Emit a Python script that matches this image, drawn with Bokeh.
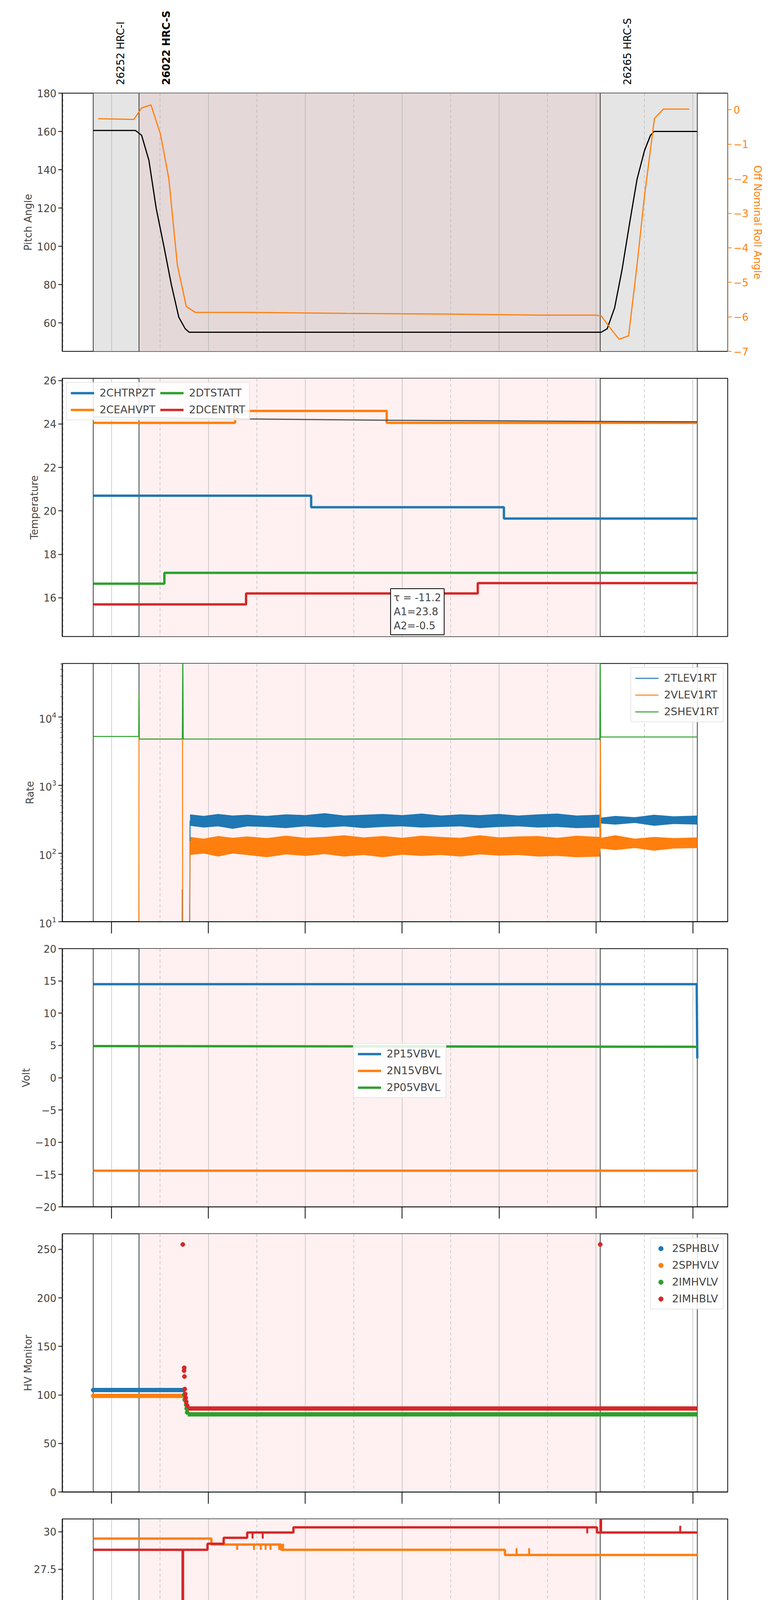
from math import pi
from bokeh.plotting import figure
from bokeh.layouts import column
from bokeh.models import (Range1d, LinearAxis, FixedTicker, Span, BoxAnnotation,
                          Label, Legend, LegendItem)
from bokeh.core.properties import value
from bokeh.embed import file_html
from bokeh.resources import INLINE

C = ["#1f77b4", "#ff7f0e", "#2ca02c", "#d62728"]
FONT = "DejaVu Sans"

# ---- time marks (decimal hours, 2021-12-28) ----
x_start, x_end = 5.491, 12.36
hour_ticks = [6, 7, 8, 9, 10, 11, 12]
hour_labels = ["06h", "07h", "08h", "09h", "10h", "11h", "12h"]
half_ticks = [5.5, 6.5, 7.5, 8.5, 9.5, 10.5, 11.5]
event_lines = [5.81, 6.283, 11.044, 12.046]
hrc_span = (5.81, 12.046)
obs_span = (6.283, 11.044)
obs_labels = ["26252 HRC-I", "26022 HRC-S", "26265 HRC-S"]
obs_label_x = [6.154, 6.627, 11.388]
obs_label_style = ["normal", "bold", "normal"]

# ---- panel 1: pitch / roll ----
pitch_t = [5.81, 6.247, 6.31, 6.385, 6.46, 6.54, 6.617, 6.694, 6.76, 6.80,
           11.054, 11.116, 11.193, 11.27, 11.347, 11.424, 11.501, 11.563, 11.60, 12.046]
pitch_v = [160.5, 160.5, 158, 145, 120, 100, 80, 63, 57, 55.2,
           55.2, 57, 68, 88, 112, 135, 150, 158, 160, 160]
roll_t = [5.86, 6.05, 6.23, 6.31, 6.406, 6.504, 6.591, 6.679, 6.771, 6.864, 7.388,
          8.416, 9.445, 10.473, 10.987, 11.054, 11.141, 11.239, 11.337, 11.424,
          11.501, 11.604, 11.697, 11.964]
roll_v = [-0.26, -0.27, -0.28, 0.05, 0.14, -0.7, -2.0, -4.5, -5.7, -5.87, -5.87,
          -5.9, -5.92, -5.95, -5.95, -5.97, -6.3, -6.65, -6.55, -4.5,
          -2.5, -0.25, 0.02, 0.02]

# ---- panel 2: temperature ----
t_steps = {
    "2CHTRPZT": ([5.81, 8.06, 10.05, 12.046], [20.7, 20.17, 19.65, 19.65]),
    "2CEAHVPT": ([5.81, 7.275, 8.84, 12.046], [24.05, 24.6, 24.05, 24.05]),
    "2DTSTATT": ([5.81, 6.545, 12.046], [16.65, 17.15, 17.15]),
    "2DCENTRT": ([5.81, 7.388, 9.78, 12.046], [15.7, 16.2, 16.68, 16.68]),
}
fit_t = [5.81, 7.388, 8.93, 10.98, 12.046]
fit_v = [24.32, 24.23, 24.17, 24.12, 24.1]
fit_text = "τ = -11.2\nA1=23.8\nA2=-0.5"

# ---- panel 3: rates ----
shev_t = [5.81, 6.28, 6.283, 6.286, 6.73, 6.735, 6.74, 11.04, 11.044, 11.048, 12.046]
shev_v = [5200, 5200, 22000, 4750, 4750, 100000, 4750, 4750, 100000, 5100, 5100]
vlev_t = [6.281, 6.283, 6.286, 6.732, 6.735, 6.80, 6.81, 11.04, 11.046, 11.05, 12.046]
vlev_v = [1, 22000, 4750, 4750, 1, 1, 150, 150, 4500, 140, 145]
tlev_t = [6.728, 6.73, 6.732, 6.805, 6.81, 11.04, 11.044, 11.05, 12.046]
tlev_v = [1, 30, 1, 1, 300, 300, 380, 300, 310]
band_t = [6.81, 6.95, 7.1, 7.25, 7.4, 7.6, 7.8, 8.0, 8.2, 8.4, 8.6, 8.8, 9.0, 9.2,
          9.4, 9.6, 9.8, 10.0, 10.2, 10.4, 10.6, 10.8, 11.04,
          11.05, 11.2, 11.4, 11.6, 11.8, 12.046]
tlev_hi = [375, 355, 380, 360, 370, 355, 375, 365, 390, 360, 370, 380, 365, 385,
           360, 375, 365, 380, 360, 375, 385, 360, 370,
           335, 355, 340, 370, 350, 360]
tlev_lo = [255, 240, 250, 230, 250, 245, 235, 250, 240, 250, 235, 245, 250, 240,
           245, 250, 235, 245, 250, 240, 245, 235, 240,
           275, 265, 280, 255, 270, 265]
vlev_hi = [175, 165, 180, 170, 178, 168, 182, 170, 175, 185, 172, 180, 170, 182,
           175, 170, 185, 172, 178, 180, 170, 182, 175,
           170, 185, 165, 175, 168, 172]
vlev_lo = [95, 100, 90, 100, 95, 88, 97, 92, 98, 90, 95, 88, 96, 92, 95, 90, 97,
           93, 95, 90, 92, 88, 90,
           118, 112, 120, 110, 118, 120]

# ---- panel 4: voltages ----
volt = {
    "2P15VBVL": ([5.81, 12.04, 12.046], [14.5, 14.5, 3.0]),
    "2N15VBVL": ([5.81, 12.046], [-14.4, -14.4]),
    "2P05VBVL": ([5.81, 12.046], [4.9, 4.8]),
}

# ---- panel 5: HV monitor ----
hv_plateau = {
    "2SPHBLV": ([5.81, 6.74], [105, 105]),
    "2SPHVLV": ([5.81, 6.74], [99, 99]),
    "2IMHVLV": ([6.785, 12.046], [80, 80]),
    "2IMHBLV": ([6.79, 12.046], [86, 86]),
}
hv_points = {
    "2SPHBLV": ([5.81, 6.74], [105, 105]),
    "2SPHVLV": ([5.81, 6.74], [99, 99]),
    "2IMHVLV": ([6.75, 6.755, 6.77, 6.775, 6.78], [100, 95, 90, 86, 82]),
    "2IMHBLV": ([6.735, 6.75, 6.748, 6.752, 6.755, 6.76, 6.765, 6.77, 6.78, 11.044],
                [255, 128, 125, 119, 106, 101, 97, 93, 89, 255]),
}

# ---- panel 6: detector temps ----
det = {
    "2SPINATM": ([5.81, 8.49, 12.046], [15.1, 15.7, 15.7]),
    "2SPHVATM": ([5.81, 7.03, 7.75, 10.06, 12.046], [29.55, 29.15, 28.8, 28.45, 28.45]),
    "2IMINATM": ([5.81, 6.59, 9.42, 12.046], [16.3, 16.95, 17.6, 17.6]),
    "2IMHVATM": ([5.81, 6.733, 6.737, 6.99, 7.157, 7.40, 7.877, 11.01, 11.048, 11.052, 12.046],
                 [28.8, 0, 28.8, 29.2, 29.6, 29.95, 30.3, 29.95, 40, 29.95, 29.95]),
}
det_spikes = {
    "2SPHVATM": ([7.296, 7.47, 7.54, 7.59, 7.64, 7.73, 7.77, 10.18, 10.31],
                 [29.15] * 7 + [28.45, 28.45],
                 [28.85] * 7 + [28.85, 28.85]),
    "2IMINATM": ([9.21, 9.31, 9.56, 9.77, 9.83],
                 [16.95, 16.95, 17.6, 17.6, 17.6],
                 [17.6, 17.6, 16.95, 16.95, 16.95]),
    "2IMHVATM": ([7.455, 7.56, 10.91, 11.87],
                 [29.95, 29.95, 30.3, 29.95],
                 [29.6, 29.6, 29.95, 30.35]),
}

# ---- panel 7: FEA temps ----
fea = {
    "2FHTRMZT": ([5.81, 5.94, 10.23, 11.63, 12.046], [19.7, 20.2, 19.7, 20.2, 20.2]),
    "2FRADPYT": ([5.81, 5.96, 7.05, 8.74, 11.30, 12.046], [15.7, 16.17, 15.7, 15.23, 15.7, 15.7]),
    "2FEPRATM": ([5.81, 6.54, 9.265, 9.38, 12.046], [21.7, 22.4, 22.4, 21.7, 21.7]),
    "2FE00ATM": ([5.81, 5.85, 6.733, 6.737, 6.81, 7.77, 11.048, 11.052, 12.046],
                 [20.2, 20.5, 0, 20.5, 20.75, 20.5, 40, 20.5, 20.5]),
}
fea_spikes = {
    "2FEPRATM": ([6.735, 9.27, 9.30, 9.33, 9.36, 9.85, 11.03],
                 [22.4, 21.7, 21.7, 21.7, 21.7, 21.7, 21.7],
                 [20.5, 22.4, 22.4, 22.4, 22.4, 22.4, 20.5]),
    "2FE00ATM": ([6.853, 6.936, 6.951, 7.013, 7.254, 7.30, 7.476, 7.55, 7.65, 7.753, 7.794,
                  7.99, 7.99, 8.2, 8.22, 8.365, 8.648, 8.684, 8.787, 8.85, 8.91, 8.95,
                  9.147, 9.794, 9.87, 10.216, 10.504, 10.524, 10.663, 10.91, 10.941,
                  10.992, 11.008],
                 [20.75, 20.75, 20.75, 20.75, 20.75, 20.5, 20.75, 20.5, 20.5, 20.75, 20.75,
                  20.5, 20.5, 20.5, 20.5, 20.5, 20.5, 20.5, 20.5, 20.5, 20.5, 20.5,
                  20.5, 20.5, 20.5, 20.5, 20.5, 20.5, 20.5, 20.5, 20.5, 20.5, 20.5],
                 [21.4, 20.1, 21.7, 22.05, 19.55, 20.8, 20.1, 20.8, 20.8, 21.1, 20.1,
                  21.1, 20.1, 19.25, 19.85, 18.65, 20.1, 21.1, 21.75, 21.1, 21.75, 19.9,
                  20.8, 21.1, 20.8, 19.55, 19.25, 21.4, 20.1, 19.85, 21.1, 21.4, 20.1]),
}

FW, FH = 1704, 661
TICK_FS = "26px"
LABEL_FS = "26px"
xr = Range1d(x_start, x_end)


def make_fig(yr, ylabel, top=34, bottom=35, log=False):
    p = figure(frame_width=FW, frame_height=FH, x_range=xr,
               y_range=Range1d(*yr), y_axis_type="log" if log else "linear",
               output_backend="svg", toolbar_location=None,
               min_border_left=159, min_border_right=121,
               min_border_top=top, min_border_bottom=bottom)
    p.grid.visible = False
    p.outline_line_color = "black"
    p.outline_line_width = 2
    ya = p.yaxis[0]
    ya.axis_label = ylabel
    ya.axis_label_text_font = FONT
    ya.axis_label_text_font_style = "normal"
    ya.axis_label_text_font_size = LABEL_FS
    ya.major_label_text_font = FONT
    ya.major_label_text_font_size = TICK_FS
    ya.major_tick_in = 0
    ya.major_tick_out = 10
    ya.major_tick_line_width = 2
    ya.minor_tick_in = 0
    ya.minor_tick_out = 5 if log else 0
    ya.axis_line_width = 2
    xa = p.xaxis[0]
    xa.ticker = FixedTicker(ticks=half_ticks, minor_ticks=hour_ticks)
    xa.major_label_overrides = {h: "" for h in half_ticks}
    xa.major_tick_in = 0
    xa.major_tick_out = 0
    xa.minor_tick_in = 0
    xa.minor_tick_out = 30
    xa.minor_tick_line_width = 2
    xa.minor_tick_line_color = "black"
    xa.axis_line_width = 2
    xa.major_label_text_font = FONT
    xa.major_label_text_font_size = "16px"
    xa.major_label_standoff = -24
    return p


def add_marks(p, first=False):
    if first:
        p.add_layout(BoxAnnotation(left=hrc_span[0], right=hrc_span[1], fill_color="#e5e5e5",
                                   fill_alpha=1, line_color=None, level="underlay"))
        p.add_layout(BoxAnnotation(left=obs_span[0], right=obs_span[1], fill_color="#e4d8d8",
                                   fill_alpha=1, line_color=None, level="underlay"))
    else:
        p.add_layout(BoxAnnotation(left=obs_span[0], right=obs_span[1], fill_color="#fff1f1",
                                   fill_alpha=1, line_color=None, level="underlay"))
    for h in hour_ticks:
        p.add_layout(Span(location=h, dimension="height", line_color="#b0b0b0",
                          line_width=1.2, level="underlay"))
    for h in half_ticks:
        p.add_layout(Span(location=h, dimension="height", line_color="#b0b0b0",
                          line_width=1.2, line_dash="8 6", level="underlay"))
    for h in event_lines:
        p.add_layout(Span(location=h, dimension="height", line_color="black",
                          line_width=1.5, level="underlay"))


def style_legend(lg):
    lg.label_text_font = FONT
    lg.label_text_font_size = "27px"
    lg.border_line_color = "#d0d0d0"
    lg.border_line_width = 2
    lg.background_fill_alpha = 0.85
    lg.glyph_width = 60
    lg.glyph_height = 30
    lg.label_standoff = 14
    lg.spacing = 12
    lg.padding = 10


figs = []

# obsid labels above the first panel
p0 = figure(frame_width=FW, frame_height=226, x_range=xr, y_range=Range1d(0, 1),
            output_backend="svg", toolbar_location=None,
            min_border_left=159, min_border_right=121, min_border_top=0, min_border_bottom=0)
p0.axis.visible = False
p0.grid.visible = False
p0.outline_line_color = None
p0.text(x=obs_label_x, y=[0.04] * 3, text=obs_labels, angle=pi / 2, text_align="left",
        text_baseline="bottom", text_font=value(FONT), text_font_size="26px",
        text_font_style=obs_label_style)
figs.append(p0)

# panel 1
p1 = make_fig((45.2, 180), "Pitch Angle", top=12)
p1.xaxis.visible = False
add_marks(p1, first=True)
p1.extra_y_ranges = {"roll": Range1d(-7, 0.48)}
ra = LinearAxis(y_range_name="roll", axis_label="Off Nominal Roll Angle",
                ticker=FixedTicker(ticks=[-7, -6, -5, -4, -3, -2, -1, 0]))
for k in ("axis_line_color", "major_tick_line_color", "major_label_text_color", "axis_label_text_color"):
    setattr(ra, k, C[1])
ra.axis_label_text_font = FONT
ra.axis_label_text_font_style = "normal"
ra.axis_label_text_font_size = LABEL_FS
ra.major_label_text_font = FONT
ra.major_label_text_font_size = TICK_FS
ra.major_tick_in = 0
ra.major_tick_out = 10
ra.major_tick_line_width = 2
ra.minor_tick_out = 0
ra.minor_tick_in = 0
p1.add_layout(ra, "right")
p1.yaxis[0].ticker = FixedTicker(ticks=[60, 80, 100, 120, 140, 160, 180])
p1.line(pitch_t, pitch_v, line_color="black", line_width=3)
p1.line(roll_t, roll_v, line_color=C[1], line_width=3, y_range_name="roll")
figs.append(p1)

# panel 2
p2 = make_fig((14.22, 26.1), "Temperature")
p2.xaxis.visible = False
add_marks(p2)
p2.yaxis[0].ticker = FixedTicker(ticks=[16, 18, 20, 22, 24, 26])
items = {}
for i, (name, (t, v)) in enumerate(t_steps.items()):
    r = p2.step(t, v, mode="after", line_color=C[i], line_width=6)
    items[name] = r
p2.line(fit_t, fit_v, line_color="#444444", line_width=3, alpha=0.9)
lg2 = Legend(items=[LegendItem(label=n, renderers=[items[n]]) for n in t_steps],
             location="top_left", ncols=2)
style_legend(lg2)
p2.add_layout(lg2)
p2.add_layout(Label(x=8.88, y=14.3, text=fit_text, text_align="left", text_baseline="bottom",
                    text_font=FONT, text_font_size="26px", border_line_color="black",
                    border_line_width=2, background_fill_color="white", padding=8))
figs.append(p2)

# panel 3
p3 = make_fig((10, 61000), "Rate", log=True)
add_marks(p3)
p3.varea(band_t, tlev_lo, tlev_hi, fill_color=C[0])
p3.varea(band_t, vlev_lo, vlev_hi, fill_color=C[1])
r_t = p3.line(tlev_t, tlev_v, line_color=C[0], line_width=2.5)
r_v = p3.line(vlev_t, vlev_v, line_color=C[1], line_width=2.5)
r_s = p3.line(shev_t, shev_v, line_color=C[2], line_width=2.5)
lg3 = Legend(items=[LegendItem(label="2TLEV1RT", renderers=[r_t]),
                    LegendItem(label="2VLEV1RT", renderers=[r_v]),
                    LegendItem(label="2SHEV1RT", renderers=[r_s])], location="top_right")
style_legend(lg3)
p3.add_layout(lg3)
figs.append(p3)

# panel 4
p4 = make_fig((-20, 20), "Volt")
add_marks(p4)
p4.yaxis[0].ticker = FixedTicker(ticks=list(range(-20, 21, 5)))
its = []
for i, (name, (t, v)) in enumerate(volt.items()):
    r = p4.line(t, v, line_color=C[i], line_width=6)
    its.append(LegendItem(label=name, renderers=[r]))
lg4 = Legend(items=its, location=(745, 278))
style_legend(lg4)
p4.add_layout(lg4)
figs.append(p4)

# panel 5
p5 = make_fig((0, 266), "HV Monitor")
add_marks(p5)
p5.yaxis[0].ticker = FixedTicker(ticks=[0, 50, 100, 150, 200, 250])
its = []
for i, name in enumerate(hv_plateau):
    t, v = hv_plateau[name]
    p5.line(t, v, line_color=C[i], line_width=11)
    tp, vp = hv_points[name]
    r = p5.scatter(tp, vp, size=11, color=C[i])
    its.append(LegendItem(label=name, renderers=[r]))
lg5 = Legend(items=its, location="top_right")
style_legend(lg5)
lg5.glyph_width = 30
p5.add_layout(lg5)
figs.append(p5)

# panel 6
p6 = make_fig((13.6, 30.86), "Detector Temp")
add_marks(p6)
p6.yaxis[0].ticker = FixedTicker(ticks=[15, 17.5, 20, 22.5, 25, 27.5, 30])
its = []
for i, (name, (t, v)) in enumerate(det.items()):
    r = p6.step(t, v, mode="after", line_color=C[i], line_width=6)
    its.append(LegendItem(label=name, renderers=[r]))
    if name in det_spikes:
        st, sb, sv = det_spikes[name]
        p6.segment(st, sb, st, sv, line_color=C[i], line_width=5, line_cap="round")
lg6 = Legend(items=its, location="center_right")
style_legend(lg6)
p6.add_layout(lg6)
figs.append(p6)

# panel 7
p7 = make_fig((13.74, 23.92), "FEA Temp", bottom=0)
add_marks(p7)
p7.yaxis[0].ticker = FixedTicker(ticks=[14, 16, 18, 20, 22])
p7.xaxis[0].major_label_overrides = {h: "30" for h in half_ticks}
hx = LinearAxis(ticker=FixedTicker(ticks=hour_ticks),
                major_label_overrides=dict(zip(hour_ticks, hour_labels)),
                axis_label="2021-12-28 (362)")
hx.axis_line_color = None
hx.major_tick_line_color = None
hx.minor_tick_line_color = None
hx.major_label_standoff = 10
hx.major_label_text_font = FONT
hx.major_label_text_font_size = TICK_FS
hx.axis_label_text_font = FONT
hx.axis_label_text_font_style = "normal"
hx.axis_label_text_font_size = "29px"
hx.axis_label_standoff = 6
p7.add_layout(hx, "below")
its = []
for i, (name, (t, v)) in enumerate(fea.items()):
    r = p7.step(t, v, mode="after", line_color=C[i], line_width=6)
    its.append(LegendItem(label=name, renderers=[r]))
    if name in fea_spikes:
        st, sb, sv = fea_spikes[name]
        p7.segment(st, sb, st, sv, line_color=C[i], line_width=5, line_cap="round")
lg7 = Legend(items=its, location=(730, 241))
style_legend(lg7)
p7.add_layout(lg7)
figs.append(p7)

p = column(*figs, spacing=0)
open("out.html", "w").write(file_html(p, INLINE))
